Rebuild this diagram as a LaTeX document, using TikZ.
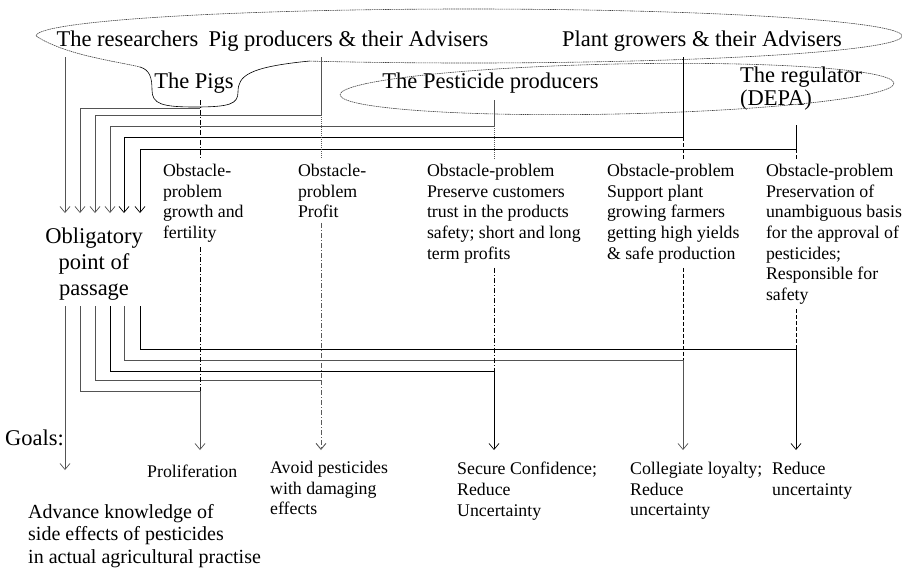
\documentclass[tikz,border=0pt]{standalone}
\usepackage{fontspec}
\setmainfont{Liberation Serif}
\usetikzlibrary{arrows.meta}

\newcommand\actfont{\fontsize{22.5}{26}\selectfont}
\newcommand\obsfont{\fontsize{17.8}{20.7}\selectfont}
\newcommand\advfont{\fontsize{20}{22.5}\selectfont}

\tikzset{
  actor/.style={font=\actfont, inner sep=0pt, anchor=base},
  obstacle/.style={font=\obsfont, align=left, anchor=north west, inner sep=0pt, outer sep=5pt},
  goaltext/.style={font=\obsfont, align=left, anchor=north west, inner sep=0pt},
  cloud/.style={gray!50!black, line width=0.6pt, dash pattern=on 1.5pt off 0.7pt},
  lnk/.style={line width=0.7pt},
  lnkg/.style={line width=0.7pt, gray!65!black},
  arr/.style={-{Straight Barb[length=6pt,width=10pt]}},
  dd/.style={line width=0.6pt, dash pattern=on 5pt off 2pt on 1pt off 2pt},
  ddg/.style={dd, gray!70!black, line width=0.9pt},
  fine/.style={line width=0.6pt, gray!70!black, dash pattern=on 1pt off 1pt},
  dsh/.style={line width=0.6pt, dash pattern=on 4pt off 2pt},
}

\begin{document}
\begin{tikzpicture}[x=1pt,y=-1pt]
\useasboundingbox (0,0) rectangle (902,570);
% actors
\node[actor] (res) at (127.5,46) {The researchers};
\node[actor] (pigprod) at (348.5,46) {Pig producers \& their Advisers};
\node[actor] (plant) at (702,46) {Plant growers \& their Advisers};
\node[actor] (pigs) at (194,88) {The Pigs};
\node[actor] (pest) at (490.5,88) {The Pesticide producers};
\node[actor, align=left, anchor=north west, font=\fontsize{22.5}{23}\selectfont] (reg) at (740,67) {The regulator\\(DEPA)};
% clouds
\draw[cloud] (469,36) ++(111.5:433 and 27) arc[start angle=111.5, end angle=-180, x radius=433, y radius=27]
  .. controls (65,55) and (115,61) .. (140,67);
\draw[line width=0.6pt] (140,67) .. controls (150,70) and (152,78) .. (152,90)
  .. controls (152,104) and (162,107) .. (195,107) .. controls (230,107) and (238,104) .. (238,92)
  .. controls (238,76) and (248,67) .. (310,61);
\draw[cloud, rotate around={1.2:(617,89)}] (617,89) ellipse [x radius=277, y radius=25];
% obligatory point of passage
\node[font=\actfont, align=center, anchor=north, inner sep=0pt] (opp) at (94,228) {Obligatory\\point of\\passage};
% obstacles
\node[obstacle] (ob1) at (158,159) {Obstacle-\\problem\\growth and\\fertility};
\node[obstacle] (ob2) at (293,159) {Obstacle-\\problem\\Profit};
\node[obstacle] (ob3) at (422,159) {Obstacle-problem\\Preserve customers\\trust in the products\\safety; short and long\\term profits};
\node[obstacle] (ob4) at (602,159) {Obstacle-problem\\Support plant\\growing farmers\\getting high yields\\\& safe production};
\node[obstacle] (ob5) at (761,159) {Obstacle-problem\\Preservation of\\unambiguous basis\\for the approval of\\pesticides;\\Responsible for\\safety};
% goals
\node[actor, anchor=base west] (goals) at (5,445) {Goals:};
\node[font=\obsfont, anchor=base west, inner sep=0pt] (g1) at (147,477) {Proliferation};
\node[goaltext] (g2) at (270,461) {Avoid pesticides\\with damaging\\effects};
\node[goaltext] (g3) at (457,462) {Secure Confidence;\\Reduce\\Uncertainty};
\node[goaltext] (g4) at (630,462) {Collegiate loyalty;\\Reduce\\uncertainty};
\node[goaltext] (g5) at (772,462) {Reduce\\uncertainty};
\node[goaltext, font=\advfont] (g0) at (28,504) {Advance knowledge of\\side effects of pesticides\\in actual agricultural practise};
% rows and lanes
\coordinate (inrow) at (0,213);
\coordinate (outrow) at (0,306);
\coordinate (goalrow) at (0,450);
\coordinate (goal0row) at (0,470);
\coordinate (l0) at (65,0);
\coordinate (l1) at (80,0);
\coordinate (l2) at (95,0);
\coordinate (l3) at (110,0);
\coordinate (l4) at (124,0);
\coordinate (l5) at (140,0);
% drops from the actors
\coordinate (res-d) at (65,57);
\coordinate (pigs-d) at (200,100);
\coordinate (pigs-c) at (200,108);
\coordinate (pp-d) at (321,57);
\coordinate (pp-c) at (321,115);
\coordinate (pest-d) at (494,100);
\coordinate (pest-c) at (494,126);
\coordinate (plant-d) at (683,57);
\coordinate (plant-c) at (683,137);
\coordinate (reg-d) at (796,125);
\coordinate (reg-c) at (796,149);
% corners below
\coordinate (pigs-b) at (200,391);
\coordinate (pp-b) at (321,380);
\coordinate (pest-b) at (494,371);
\coordinate (plant-b) at (683,360);
\coordinate (reg-b) at (796,349);
% into the obligatory point of passage
\draw[lnkg,arr] (res-d) -- (res-d |- inrow);
\draw[lnkg,arr] (pigs-c) -| (l1 |- inrow);
\draw[lnkg,arr] (pp-d) -- (pp-c) -| (l2 |- inrow);
\draw[lnkg,arr] (pest-d) -- (pest-c) -| (l3 |- inrow);
\draw[lnk,arr] (plant-d) -- (plant-c) -| (l4 |- inrow);
\draw[lnk,arr] (reg-d) -- (reg-c) -| (l5 |- inrow);
% on to the obstacles
\draw[dd] (pigs-d) -- (pigs-d |- ob1.north);
\draw[fine] (pp-c) -- (pp-c |- ob2.north);
\draw[fine] (pest-c) -- (pest-c |- ob3.north);
\draw[dsh] (plant-c) -- (plant-c |- ob4.north);
\draw[dsh] (reg-c) -- (reg-c |- ob5.north);
% out to the goals
\draw[lnkg,arr] (l0 |- outrow) -- (l0 |- goal0row);
\draw[lnkg,arr] (l1 |- outrow) |- (pigs-b) -- (pigs-b |- goalrow);
\draw[lnkg] (l2 |- outrow) |- (pp-b);
\draw[ddg,arr] (pp-b) -- (pp-b |- goalrow);
\draw[lnk,arr] (l3 |- outrow) |- (pest-b) -- (pest-b |- goalrow);
\draw[lnkg,arr] (l4 |- outrow) |- (plant-b) -- (plant-b |- goalrow);
\draw[lnk,arr] (l5 |- outrow) |- (reg-b) -- (reg-b |- goalrow);
% obstacles down to the corners
\draw[dd] (ob1.south -| pigs-b) -- (pigs-b);
\draw[ddg] (ob2.south -| pp-b) -- (pp-b);
\draw[dd] (ob3.south -| pest-b) -- (pest-b);
\draw[dsh] (ob4.south -| plant-b) -- (plant-b);
\draw[dsh] (ob5.south -| reg-b) -- (reg-b);
\end{tikzpicture}
\end{document}
